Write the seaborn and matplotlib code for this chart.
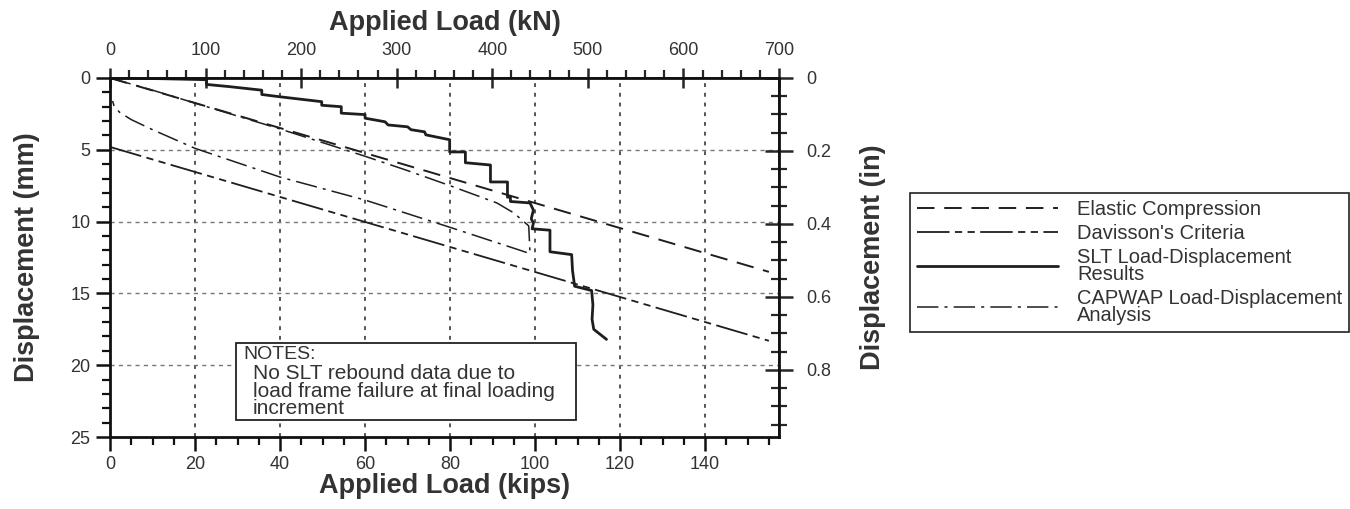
import numpy as np
import pandas as pd
import matplotlib
matplotlib.use("Agg")
import matplotlib.pyplot as plt
from matplotlib.patches import Rectangle
from matplotlib.ticker import MultipleLocator
import seaborn as sns

# Load (kips) vs displacement (mm)
elastic_load = [0, 155]
elastic_disp = [0, 13.5]

davisson_load = [0, 155]
davisson_disp = [4.8, 18.3]

slt_load = [0, 12, 22.7, 22.7, 28, 35.7, 35.7, 39.7, 49.8, 49.8, 54.4, 54.4,
            60, 60, 64.7, 65.4, 70, 70.8, 74, 74.3, 79.9, 79.9, 83.6, 83.6,
            89.5, 89.5, 93.5, 93.5, 94.2, 94.2, 98.8, 99.6, 99.1, 99.6, 99.3,
            103.5, 103.5, 108.6, 108.8, 109.3, 113.3, 113.6, 113.4, 113.8,
            116.8]
slt_disp = [0, 0.05, 0.12, 0.45, 0.6, 0.85, 1.15, 1.3, 1.65, 1.9, 2.0, 2.45,
            2.55, 2.8, 3.05, 3.27, 3.4, 3.6, 3.75, 3.96, 4.3, 5.15, 5.15, 5.9,
            6.06, 7.24, 7.24, 8.3, 8.3, 8.6, 8.7, 9.2, 9.8, 10.1, 10.5,
            10.6, 12.1, 12.3, 13.4, 14.5, 14.8, 15.8, 16.8, 17.5,
            18.2]

capwap_load = [0, 10, 20, 30, 40, 50, 60, 70, 80, 91, 95, 98.5, 98.8, 98.0,
               96.5, 80, 60, 40, 20, 10, 5, 2.3, 1.0, 0.6]
capwap_disp = [0, 0.85, 1.75, 2.65, 3.55, 4.5, 5.45, 6.45, 7.5, 8.7, 9.4, 10.3,
               12.2, 12.15, 12.0, 10.4, 8.5, 6.9, 4.9, 3.6, 2.9, 2.4, 2.0, 1.6]

series_labels = ["Elastic Compression", "Davisson's Criteria",
                 "SLT Load-Displacement\nResults",
                 "CAPWAP Load-Displacement\nAnalysis"]

note_lines = ["No SLT rebound data due to",
              "load frame failure at final loading",
              "increment"]

KN_PER_KIP = 4.44822
MM_PER_IN = 25.4

sns.set_theme(style="white")
plt.rcParams["font.family"] = ["Liberation Sans", "DejaVu Sans"]
plt.rcParams["axes.edgecolor"] = "#111111"

fig = plt.figure(figsize=(13.5, 5.09), dpi=100)
ax = fig.add_axes([0.0815, 0.1414, 0.4955, 0.7054])

ink = "#1e1e1e"
text_col = "#333333"
frames = [
    (elastic_load, elastic_disp, dict(linewidth=1.4, linestyle=(0, (9, 5)))),
    (davisson_load, davisson_disp, dict(linewidth=1.3, linestyle=(0, (18, 3, 4, 3, 4, 3)))),
    (slt_load, slt_disp, dict(linewidth=2.0, linestyle="-")),
    (capwap_load, capwap_disp, dict(linewidth=1.1, linestyle=(0, (14, 4, 2, 4)))),
]
for (xs, ys, style), lab in zip(frames, series_labels):
    df = pd.DataFrame({"load": xs, "disp": ys})
    sns.lineplot(data=df, x="load", y="disp", sort=False, estimator=None,
                 color=ink, label=lab, ax=ax, **style)

ax.set_xlim(0, 700 / KN_PER_KIP)
ax.set_ylim(25, 0)
ax.xaxis.set_major_locator(MultipleLocator(20))
ax.xaxis.set_minor_locator(MultipleLocator(5))
ax.yaxis.set_major_locator(MultipleLocator(5))
ax.yaxis.set_minor_locator(MultipleLocator(1))

ax.grid(False)
for xv in range(20, 141, 20):
    ax.axvline(xv, color="#555555", lw=1.4, ls=(0, (2, 3)), zorder=0)
for yv in range(5, 21, 5):
    ax.axhline(yv, color="#777777", lw=1.0, ls=(0, (3, 3)), zorder=0)

for s in ax.spines.values():
    s.set_linewidth(2.0)
    s.set_color("#111111")

ax.tick_params(axis="both", which="major", direction="out", length=10, width=1.8,
               labelsize=13, colors="#111111", labelcolor=text_col, pad=4)
ax.tick_params(axis="both", which="minor", direction="out", length=6, width=1.6,
               colors="#111111")
ax.tick_params(axis="x", which="both", bottom=True)
ax.tick_params(axis="y", which="both", left=True)

ax.set_xlabel("Applied Load (kips)", fontsize=19.5, fontweight="bold", color=text_col, labelpad=0)
ax.set_ylabel("Displacement (mm)", fontsize=19.5, fontweight="bold", color=text_col, labelpad=22)

top = ax.secondary_xaxis("top", functions=(lambda k: k * KN_PER_KIP, lambda n: n / KN_PER_KIP))
top.xaxis.set_major_locator(MultipleLocator(100))
top.xaxis.set_minor_locator(MultipleLocator(20))
top.tick_params(which="major", direction="inout", length=14, width=1.8, labelsize=13,
                labelcolor=text_col, pad=7)
top.tick_params(which="minor", direction="out", length=6, width=1.6)
top.set_xlabel("Applied Load (kN)", fontsize=19.5, fontweight="bold", color=text_col, labelpad=8)

right = ax.secondary_yaxis("right", functions=(lambda m: m / MM_PER_IN, lambda i: i * MM_PER_IN))
right.yaxis.set_minor_locator(MultipleLocator(0.05))
right.set_yticks([0, 0.2, 0.4, 0.6, 0.8])
right.set_yticklabels(["0", "0.2", "0.4", "0.6", "0.8"])
right.tick_params(which="major", direction="inout", length=20, width=1.8, labelsize=13,
                  labelcolor=text_col, pad=10)
right.tick_params(which="minor", direction="inout", length=12, width=1.6)
right.set_ylabel("Displacement (in)", fontsize=19.5, fontweight="bold", color=text_col, labelpad=20)

# notes box
ax.add_patch(Rectangle((29.7, 18.45), 79.9, 5.35, facecolor="white", edgecolor="#222222",
                       linewidth=1.3, zorder=5))
ax.text(31.3, 19.25, "NOTES:", fontsize=14, color=text_col, va="center", ha="left", zorder=6)
ax.text(33.6, 19.95, "\n".join(note_lines), fontsize=15, color=text_col, va="top",
        ha="left", linespacing=0.9, zorder=6)

handles, labels = ax.get_legend_handles_labels()
if ax.get_legend() is not None:
    ax.get_legend().remove()
leg = fig.legend(handles, labels, loc="upper left", bbox_to_anchor=(910 / 1350, 1 - 193 / 509),
                 bbox_transform=fig.transFigure, borderaxespad=0, fontsize=14.5,
                 handlelength=7.0, handletextpad=0.95, borderpad=0.35, labelspacing=0.25,
                 frameon=True, fancybox=False, edgecolor="#222222", framealpha=1)
leg.get_frame().set_linewidth(1.2)
for t in leg.get_texts():
    t.set_color(text_col)
    t.set_linespacing(0.85)

fig.savefig("out.png", dpi=100)
